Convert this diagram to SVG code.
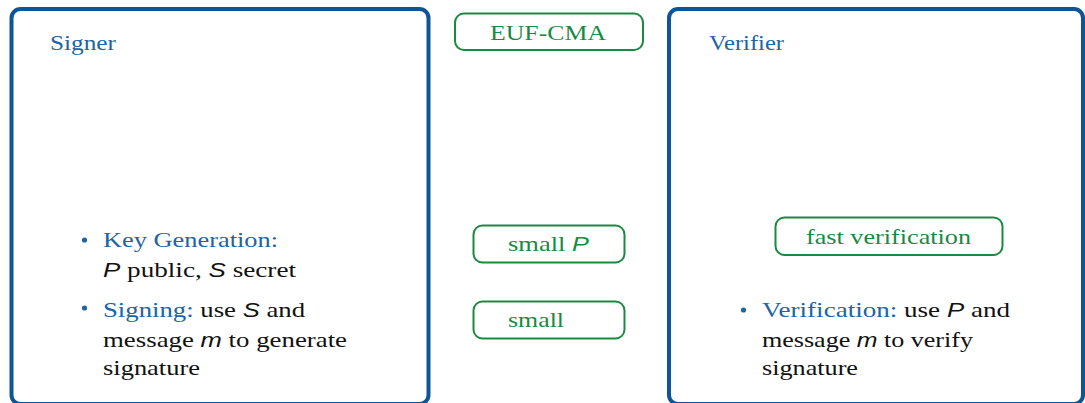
<svg xmlns="http://www.w3.org/2000/svg" width="1085" height="403" viewBox="0 0 1085 403">
<style>
.big{fill:#fff;stroke:#0d5597;stroke-width:4}
.tag{fill:#fff;stroke:#1a8a40;stroke-width:2}
.t{font-family:"Liberation Serif","DejaVu Serif",serif;font-size:22px;fill:#111}
.h{fill:#2064a6}
.g{fill:#1a8a40}
.m{font-family:"Liberation Sans","DejaVu Sans",sans-serif;font-style:italic;font-size:21px}
.b{fill:#2064a6}
</style>
<g id="signer">
<rect class="big" x="11.5" y="9" width="417" height="395" rx="9"/>
<text class="t h" x="50" y="50" textLength="66" lengthAdjust="spacingAndGlyphs">Signer</text>
<circle class="b" cx="84.5" cy="240" r="2.6"/>
<text class="t h" x="103" y="247" textLength="175" lengthAdjust="spacingAndGlyphs">Key Generation:</text>
<text class="t" x="103" y="277" textLength="193" lengthAdjust="spacingAndGlyphs"><tspan class="m">P</tspan> public, <tspan class="m">S</tspan> secret</text>
<circle class="b" cx="84.5" cy="308" r="2.6"/>
<text class="t" x="103" y="317" textLength="202" lengthAdjust="spacingAndGlyphs"><tspan class="h">Signing:</tspan> use <tspan class="m">S</tspan> and</text>
<text class="t" x="103" y="347" textLength="244" lengthAdjust="spacingAndGlyphs">message <tspan class="m">m</tspan> to generate</text>
<text class="t" x="103" y="375" textLength="97" lengthAdjust="spacingAndGlyphs">signature</text>
</g>
<g id="verifier">
<rect class="big" x="669" y="9" width="414" height="395" rx="9"/>
<text class="t h" x="709" y="50" textLength="75" lengthAdjust="spacingAndGlyphs">Verifier</text>
<circle class="b" cx="743.5" cy="310" r="2.6"/>
<text class="t" x="762" y="317" textLength="248" lengthAdjust="spacingAndGlyphs"><tspan class="h">Verification:</tspan> use <tspan class="m">P</tspan> and</text>
<text class="t" x="762" y="347" textLength="211" lengthAdjust="spacingAndGlyphs">message <tspan class="m">m</tspan> to verify</text>
<text class="t" x="762" y="375" textLength="96" lengthAdjust="spacingAndGlyphs">signature</text>
</g>
<g id="euf-cma">
<rect class="tag" x="455" y="13.5" width="188" height="36.5" rx="9"/>
<text class="t g" x="490" y="40" textLength="116" lengthAdjust="spacingAndGlyphs">EUF-CMA</text>
</g>
<g id="small-p">
<rect class="tag" x="473.5" y="225.5" width="151" height="37" rx="9"/>
<text class="t g" x="508" y="251" textLength="81" lengthAdjust="spacingAndGlyphs">small <tspan class="m">P</tspan></text>
</g>
<g id="small">
<rect class="tag" x="473.5" y="301.5" width="151" height="37" rx="9"/>
<text class="t g" x="508" y="327" textLength="56" lengthAdjust="spacingAndGlyphs">small</text>
</g>
<g id="fast-verification">
<rect class="tag" x="775.5" y="217.5" width="227" height="37.5" rx="9"/>
<text class="t g" x="806" y="244" textLength="165" lengthAdjust="spacingAndGlyphs">fast verification</text>
</g>
<g id="connectors"></g>
</svg>
